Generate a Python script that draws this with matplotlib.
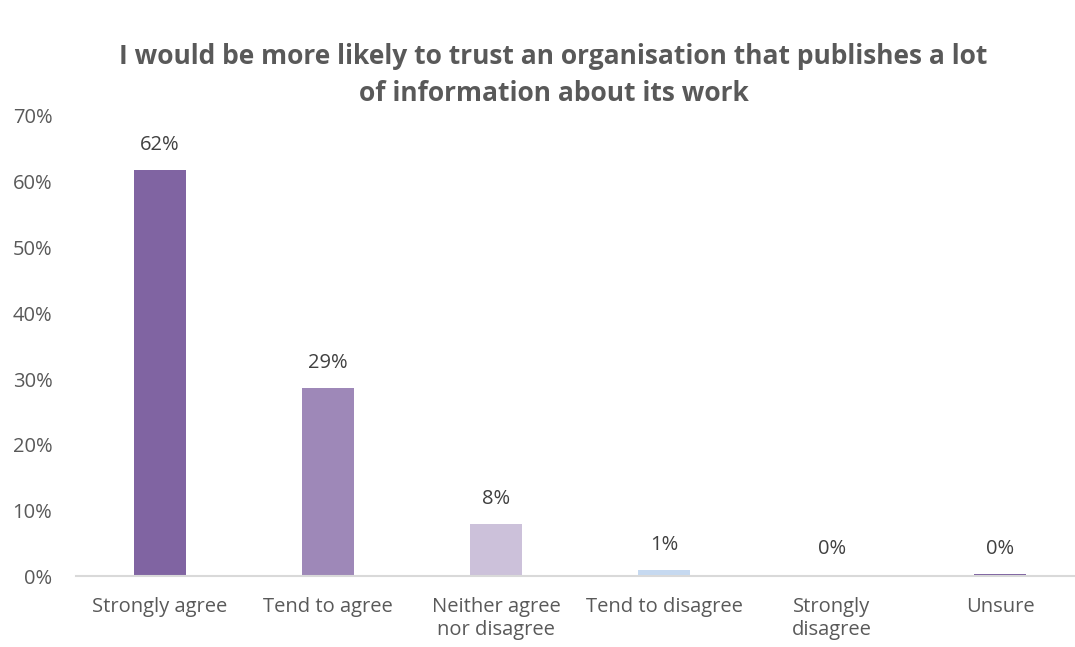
import matplotlib.pyplot as plt

# survey answers and share of respondents
categories = ['Strongly agree', 'Tend to agree', 'Neither agree\nnor disagree',
              'Tend to disagree', 'Strongly\ndisagree', 'Unsure']
shares = [0.618, 0.286, 0.080, 0.010, 0.003, 0.004]
bar_colors = ['#8064A2', '#9E88B8', '#CCC1DA', '#C6D9F0', '#8064A2', '#8064A2']
y_ticks = [0, 0.1, 0.2, 0.3, 0.4, 0.5, 0.6, 0.7]

plt.rcParams['font.family'] = ['Open Sans', 'DejaVu Sans']

fig = plt.figure(figsize=(10.75, 6.47), dpi=100)
ax = fig.add_axes([76 / 1075, 0.109, 1008 / 1075, 0.712])

x = range(len(categories))
bars = ax.bar(x, shares, width=0.31, color=bar_colors)

for b, v in zip(bars, shares):
    ax.text(b.get_x() + b.get_width() / 2, v + 0.038, '%d%%' % round(v * 100),
            ha='center', va='center', fontsize=14.5, color='#404040')

ax.set_xlim(-0.5, len(categories) - 0.5)
ax.set_ylim(0, 0.7)
ax.set_yticks(y_ticks)
ax.set_yticklabels(['%d%%' % round(t * 100) for t in y_ticks])
ax.set_xticks(list(x))
ax.set_xticklabels(categories, linespacing=1.2)
ax.tick_params(axis='both', length=0, labelsize=14.5, labelcolor='#595959')
ax.tick_params(axis='x', pad=15)
ax.tick_params(axis='y', pad=17)

for s in ['top', 'right', 'left']:
    ax.spines[s].set_visible(False)
ax.spines['bottom'].set_color('#D9D9D9')
ax.spines['bottom'].set_linewidth(1.5)

fig.text(0.515, 0.884, 'I would be more likely to trust an organisation that publishes a lot\nof information about its work',
         ha='center', va='center', fontsize=19, fontweight='bold', color='#595959', linespacing=1.45)

fig.savefig('out.png')
